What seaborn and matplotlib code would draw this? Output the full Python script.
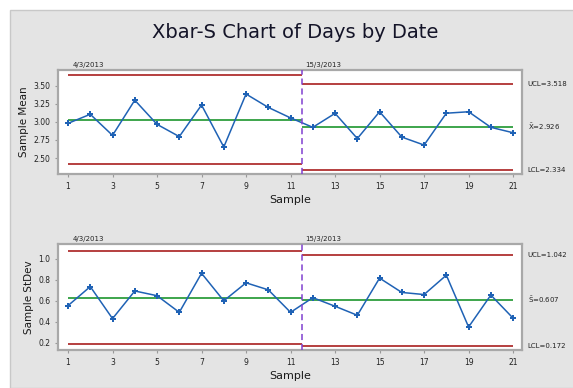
import matplotlib
matplotlib.use("Agg")
import matplotlib.pyplot as plt
from matplotlib.patches import Rectangle
import numpy as np
import pandas as pd
import seaborn as sns

# Subgroup means and standard deviations, one per sample (day)
samples = list(range(1, 22))
sample_mean = [2.98, 3.105, 2.814, 3.30, 2.966, 2.797, 3.233, 2.653, 3.385, 3.20, 3.055,
               2.925, 3.118, 2.77, 3.14, 2.79, 2.68, 3.12, 3.14, 2.925, 2.85]
sample_sd = [0.554, 0.736, 0.430, 0.694, 0.649, 0.490, 0.863, 0.600, 0.772, 0.705, 0.490,
             0.630, 0.548, 0.462, 0.817, 0.680, 0.660, 0.845, 0.350, 0.655, 0.434]

# Two stages, split after sample 11
stage_labels = ["4/3/2013", "15/3/2013"]
stage_break = 11.5
stage_ranges = [(1, stage_break), (stage_break, 21)]

# Control limits per stage: (LCL, centre, UCL)
xbar_limits = [(2.415, 3.031, 3.647), (2.334, 2.926, 3.518)]
s_limits = [(0.185, 0.630, 1.075), (0.172, 0.607, 1.042)]

xbar_ticks = [2.50, 2.75, 3.00, 3.25, 3.50]
s_ticks = [0.2, 0.4, 0.6, 0.8, 1.0]
x_ticks = list(range(1, 22, 2))

sns.set_style("white")
plt.rcParams["font.family"] = ["DejaVu Sans"]

fig = plt.figure(figsize=(5.73, 3.88), dpi=100)
fig.patch.set_facecolor("white")
fig.patches.append(Rectangle((10 / 573, 0), 1, 1 - 10 / 388, transform=fig.transFigure,
                             facecolor="#e4e4e4", edgecolor="#c8c8c8", linewidth=1.0, zorder=-10))

df = pd.DataFrame({"Sample": samples, "Mean": sample_mean, "StDev": sample_sd})

RED = "#b03030"
GREEN = "#2e9e3e"
BLUE = "#1f62b5"
PURPLE = "#8040d0"

def draw_panel(ax, ycol, limits, yticks, ylabel, ylim, center_name, fmt):
    sns.lineplot(data=df, x="Sample", y=ycol, ax=ax, color=BLUE, linewidth=1.1,
                 marker="P", markersize=4.5, markeredgewidth=0, zorder=4)
    for (x0, x1), (lcl, cl, ucl) in zip(stage_ranges, limits):
        ax.hlines([ucl, lcl], x0, x1, colors=RED, linewidth=1.3, zorder=3)
        ax.hlines(cl, x0, x1, colors=GREEN, linewidth=1.3, zorder=3)
    ax.axvline(stage_break, color=PURPLE, linestyle=(0, (4, 2.5)), linewidth=1.1, zorder=5)
    ax.set_xlim(0.55, 21.4)
    ax.set_ylim(*ylim)
    ax.set_xticks(x_ticks)
    ax.set_yticks(yticks)
    ax.set_yticklabels([fmt.format(v) for v in yticks])
    ax.tick_params(axis="both", labelsize=5.5, labelcolor="#222222", length=2.5, width=0.8,
                   direction="out", pad=3, color="#999999", bottom=True, left=True)
    ax.set_xlabel("Sample", fontsize=8, color="#1a1a1a", labelpad=3)
    ax.set_ylabel(ylabel, fontsize=7.5, color="#1a1a1a", labelpad=3)
    ax.set_facecolor("white")
    for sp in ax.spines.values():
        sp.set_color("#a8a8a8")
        sp.set_linewidth(1.6)
    # stage labels above the panel
    ax.text(1.2, 1.015, stage_labels[0], transform=ax.get_xaxis_transform(),
            fontsize=5, color="#222222", ha="left", va="bottom")
    ax.text(stage_break + 0.15, 1.015, stage_labels[1], transform=ax.get_xaxis_transform(),
            fontsize=5, color="#222222", ha="left", va="bottom")
    # limit annotations for the latest stage
    lcl, cl, ucl = limits[-1]
    tx = 1.012
    tr = ax.get_yaxis_transform()
    ax.text(tx, ucl, f"UCL={ucl:.3f}", transform=tr, fontsize=5, va="center", ha="left", color="#222222")
    ax.text(tx, cl, f"{center_name}={cl:.3f}", transform=tr, fontsize=5, va="center", ha="left", color="#222222")
    ax.text(tx, lcl, f"LCL={lcl:.3f}", transform=tr, fontsize=5, va="center", ha="left", color="#222222")

ax1 = fig.add_axes([58 / 573, 1 - 174 / 388, 464 / 573, 104 / 388])
ax2 = fig.add_axes([58 / 573, 1 - 350 / 388, 464 / 573, 106 / 388])

draw_panel(ax1, "Mean", xbar_limits, xbar_ticks, "Sample Mean", (2.28, 3.717),
           r"$\bar{\mathrm{X}}$", "{:.2f}")
draw_panel(ax2, "StDev", s_limits, s_ticks, "Sample StDev", (0.13, 1.143),
           r"$\bar{\mathrm{S}}$", "{:.1f}")

fig.text(0.515, 1 - 33 / 388, "Xbar-S Chart of Days by Date", fontsize=14,
         color="#141428", ha="center", va="center")

fig.savefig("out.png", dpi=100)
